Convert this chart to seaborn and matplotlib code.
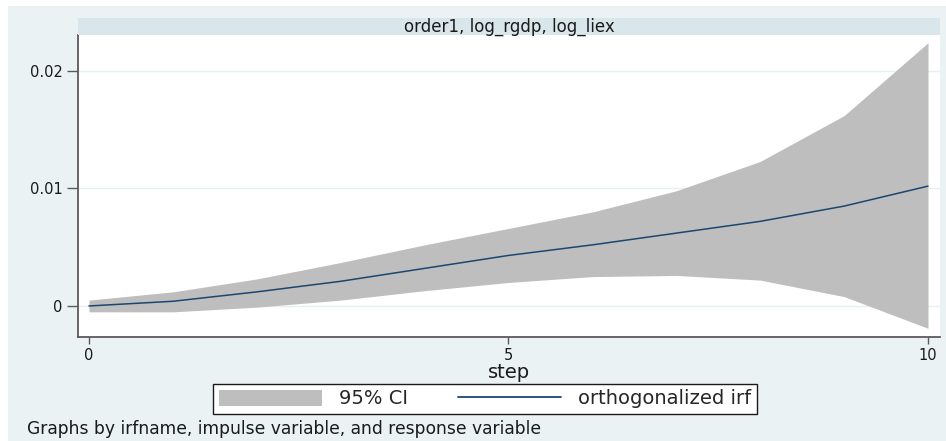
import matplotlib
matplotlib.use("Agg")
import matplotlib.pyplot as plt
import seaborn as sns
import pandas as pd
from matplotlib.patches import Patch, Rectangle
from matplotlib.lines import Line2D

# impulse response
steps = [0, 1, 2, 3, 4, 5, 6, 7, 8, 9, 10]
irf = [0.0000, 0.0004, 0.0012, 0.0021, 0.0032, 0.0043, 0.0052, 0.0062, 0.0072, 0.0085, 0.0102]
ci_upper = [0.0005, 0.0012, 0.0023, 0.0037, 0.0052, 0.0066, 0.0080, 0.0098, 0.0123, 0.0162, 0.0224]
ci_lower = [-0.0005, -0.0005, -0.0001, 0.0005, 0.0013, 0.0020, 0.0025, 0.0026, 0.0022, 0.0008, -0.0019]
y_ticks = [0, 0.01, 0.02]
y_tick_labels = ["0", "0.01", "0.02"]
x_ticks = [0, 5, 10]

panel_title = "order1, log_rgdp, log_liex"
note = "Graphs by irfname, impulse variable, and response variable"

BG = "#eaf2f3"
STRIP = "#d9e6eb"
FILL = "#bebebe"
LINE = "#1a476f"
AXIS = "#5a5a5a"

sns.set_style("white")
plt.rcParams["font.family"] = ["DejaVu Sans"]

df = pd.DataFrame({"step": steps, "irf": irf, "lo": ci_lower, "hi": ci_upper})

W, H = 946, 441
fig = plt.figure(figsize=(W / 100, H / 100), dpi=100, facecolor="white")

# outer graph region (light blue-grey), white margin at top and left
fig.add_artist(Rectangle((8 / W, 0), 1 - 8 / W, 1 - 6 / H, transform=fig.transFigure,
                         facecolor=BG, edgecolor="none", zorder=0))

ax_l, ax_r, ax_b, ax_t = 78, 940, 337, 35
ax = fig.add_axes([ax_l / W, 1 - ax_b / H, (ax_r - ax_l) / W, (ax_b - ax_t) / H])
ax.set_facecolor("white")

# title strip
fig.add_artist(Rectangle((ax_l / W, 1 - ax_t / H), (ax_r - ax_l) / W, 17 / H,
                         transform=fig.transFigure, facecolor=STRIP, edgecolor="none"))
fig.text((ax_l + ax_r) / 2 / W, 1 - 26.5 / H, panel_title, ha="center", va="center",
         fontsize=12, color="#1a1a1a")

ax.fill_between(df["step"], df["lo"], df["hi"], color=FILL, linewidth=0, zorder=2)
sns.lineplot(data=df, x="step", y="irf", ax=ax, color=LINE, linewidth=1.1, zorder=3)

ax.set_xlim(-0.131, 10.143)
ax.set_ylim(-0.00264, 0.02306)
ax.set_yticks(y_ticks)
ax.set_yticklabels(y_tick_labels)
ax.set_xticks(x_ticks)
for y in y_ticks:
    ax.axhline(y, color="#e6eff1", linewidth=1, zorder=1)

for side in ["top", "right"]:
    ax.spines[side].set_visible(False)
for side in ["left", "bottom"]:
    ax.spines[side].set_color(AXIS)
    ax.spines[side].set_linewidth(1.3)

ax.tick_params(axis="y", direction="out", length=8, width=1, color=AXIS, labelsize=10.5,
               pad=3, left=True, labelcolor="#1a1a1a")
ax.tick_params(axis="x", direction="out", length=5, width=1, color=AXIS, labelsize=10.5,
               pad=3, bottom=True, labelcolor="#1a1a1a")
ax.set_xlabel("step", fontsize=14, labelpad=0, color="#1a1a1a")
ax.set_ylabel("")

handles = [Patch(facecolor=FILL, edgecolor="none", label="95% CI"),
           Line2D([0], [0], color=LINE, linewidth=1.3, label="orthogonalized irf")]
leg = fig.legend(handles=handles, loc="center", bbox_to_anchor=(485 / W, 1 - 399 / H),
                 ncol=2, fontsize=14, frameon=True, fancybox=False, handlelength=5.3,
                 handleheight=0.9, handletextpad=0.85, columnspacing=2.6, borderpad=0.3,
                 borderaxespad=0)
leg.get_frame().set_edgecolor("#1a1a1a")
leg.get_frame().set_linewidth(1.0)
leg.get_frame().set_facecolor("white")
leg.get_frame().set_alpha(1)

fig.text(27 / W, 1 - 429 / H, note, ha="left", va="center", fontsize=12.3, color="#1a1a1a")

fig.savefig("out.png", dpi=100, facecolor="white")
